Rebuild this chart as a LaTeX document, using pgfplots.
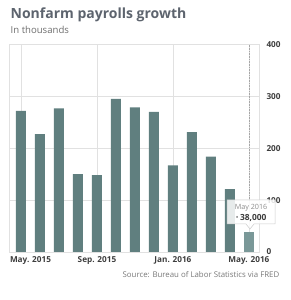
\documentclass[border=0pt]{standalone}
\usepackage{pgfplots}
\pgfplotsset{compat=1.18}
\usepackage{fontspec}
\setmainfont{Open Sans}
\definecolor{barc}{RGB}{96,127,127}
\definecolor{barh}{RGB}{122,152,152}
\definecolor{titlec}{RGB}{93,100,110}
\definecolor{subc}{RGB}{110,110,110}
\definecolor{tickc}{RGB}{60,60,60}
\definecolor{gridc}{RGB}{225,225,225}
\definecolor{srcc}{RGB}{120,120,120}
\definecolor{ttc}{RGB}{140,140,140}
\begin{document}
\begin{tikzpicture}[x=1pt,y=1pt]
\path[use as bounding box] (0,0) rectangle (290,300);
\node[anchor=base west,inner sep=0,text=titlec,font=\fontsize{14}{15}\selectfont\bfseries] at (10.5,281.7) {Nonfarm payrolls growth};
\node[anchor=base west,inner sep=0,text=subc,font=\fontsize{9.6}{10}\selectfont] at (10.5,266) {In thousands};
\begin{axis}[
  at={(9pt,48pt)}, anchor=south west,
  scale only axis, width=250pt, height=207.5pt,
  xmin=-0.63, xmax=12.53, ymin=0, ymax=400,
  axis line style={gridc},
  ytick={0,100,200,300,400},
  yticklabel pos=right,
  ymajorgrids, xmajorgrids,
  major grid style={gridc, line width=0.5pt},
  major tick length=0pt,
  xtick={4,8,12},
  xticklabels={Sep. 2015,Jan. 2016,May. 2016},
  extra x ticks={0},
  extra x tick labels={May. 2015},
  extra x tick style={grid=major, xticklabel style={xshift=9.5pt}},
  /pgf/number format/assume math mode=true,
  ticklabel style={font=\fontsize{8.2}{9}\selectfont\bfseries, text=tickc},
  yticklabel style={anchor=west, xshift=4pt},
  xticklabel style={anchor=north, yshift=-1pt},
  clip=false,
]
\addplot[ybar, bar width=10pt, fill=barc, draw=none] coordinates {
(0,272) (1,227) (2,277) (3,150) (4,148) (5,295) (6,279) (7,270) (8,167) (9,231) (10,184) (11,121)
};
\addplot[ybar, bar width=10pt, fill=barh, draw=none] coordinates {(12,38)};
\draw[gray!70, densely dotted, line width=0.6pt] (axis cs:12,400) -- (axis cs:12,100);
\end{axis}
% tooltip
\draw[gray!40, fill=white, fill opacity=0.85, line width=0.5pt]
  (227,76) -- (246,76) -- (250,71) -- (254,76) -- (275,76) -- (275,100) -- (227,100) -- cycle;
\node[anchor=base,inner sep=0,text=ttc,font=\fontsize{7.2}{8}\selectfont] at (251,90.5) {May 2016};
\node[anchor=base,inner sep=0,text=tickc,font=\fontsize{8.4}{9}\selectfont] at (251,79.5) {{\color{ttc}\textbullet}\,\textbf{38,000}};
\node[anchor=base east,inner sep=0,text=srcc,font=\fontsize{7.85}{8}\selectfont] at (279.5,22) {Source: Bureau of Labor Statistics via FRED};
\end{tikzpicture}
\end{document}
